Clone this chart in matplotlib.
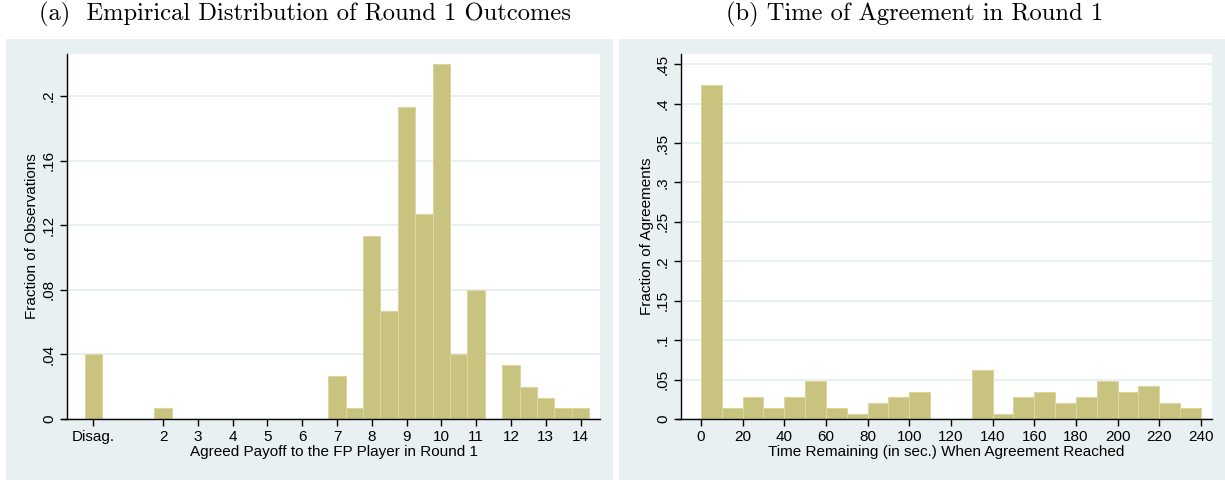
import numpy as np
import matplotlib
matplotlib.use("Agg")
import matplotlib.pyplot as plt
from matplotlib.patches import Rectangle

# Panel (a): agreed payoff to the FP player (0 = disagreement)
payoff_pos = [0, 2, 7, 7.5, 8, 8.5, 9, 9.5, 10, 10.5, 11, 12, 12.5, 13, 13.5, 14]
payoff_frac = [0.0400, 0.0067, 0.0267, 0.0067, 0.1133, 0.0667, 0.1933, 0.1267,
               0.2200, 0.0400, 0.0800, 0.0333, 0.0200, 0.0133, 0.0067, 0.0067]
payoff_ticks = [0, 2, 3, 4, 5, 6, 7, 8, 9, 10, 11, 12, 13, 14]
payoff_ticklabels = ["Disag.", "2", "3", "4", "5", "6", "7", "8", "9", "10",
                     "11", "12", "13", "14"]
frac_ticks_a = [0, 0.04, 0.08, 0.12, 0.16, 0.2]
frac_labels_a = ["0", ".04", ".08", ".12", ".16", ".2"]

# Panel (b): time remaining when agreement reached (10 sec bins)
time_bin_left = [0, 10, 20, 30, 40, 50, 60, 70, 80, 90, 100, 110, 120,
                 130, 140, 150, 160, 170, 180, 190, 200, 210, 220, 230]
time_frac = [0.4236, 0.0139, 0.0278, 0.0139, 0.0278, 0.0486, 0.0139, 0.0069,
             0.0208, 0.0278, 0.0347, 0.0, 0.0, 0.0625, 0.0069, 0.0278,
             0.0347, 0.0208, 0.0278, 0.0486, 0.0347, 0.0417, 0.0208, 0.0139]
time_ticks = list(range(0, 241, 20))
frac_ticks_b = [0, 0.05, 0.1, 0.15, 0.2, 0.25, 0.3, 0.35, 0.4, 0.45]
frac_labels_b = ["0", ".05", ".1", ".15", ".2", ".25", ".3", ".35", ".4", ".45"]

bar_color = "#c9c380"
edge_color = "#dbd5a0"
bg_color = "#e8f0f2"
grid_color = "#e4eef0"

W, H = 1225, 480
plt.rcParams["font.family"] = ["Liberation Sans", "DejaVu Sans"]
fig = plt.figure(figsize=(W / 100, H / 100), dpi=100)


def px_box(x0, y0, x1, y1):
    # pixel box (top-left origin) -> figure fraction [l, b, w, h]
    return [x0 / W, 1 - y1 / H, (x1 - x0) / W, (y1 - y0) / H]


# gray graph regions, behind the axes
for x0, x1 in [(6, 613), (619, 1225)]:
    l, b, w, h = px_box(x0, 39, x1, 480)
    fig.patches.append(Rectangle((l, b), w, h, transform=fig.transFigure,
                                 facecolor=bg_color, edgecolor="none", zorder=-5))


def style_axes(ax, xlo_ext):
    ax.set_facecolor("white")
    for s in ["top", "right"]:
        ax.spines[s].set_visible(False)
    ax.spines["left"].set_linewidth(1.0)
    ax.spines["bottom"].set_linewidth(1.0)
    ax.spines["bottom"].set_bounds(xlo_ext, ax.get_xlim()[1])
    ax.set_axisbelow(True)
    ax.yaxis.grid(True, color=grid_color, linewidth=1.2)
    ax.tick_params(axis="both", direction="out", length=5, width=1,
                   labelsize=11, pad=3)
    ax.tick_params(axis="y", labelrotation=90)
    for t in ax.get_yticklabels():
        t.set_va("center")


# ---- panel (a)
ax1 = fig.add_axes(px_box(67, 54, 600, 419))
ax1.bar(payoff_pos, payoff_frac, width=0.5, color=bar_color,
        edgecolor=edge_color, linewidth=0.8)
ax1.set_xlim(-0.76, 14.56)
ax1.set_ylim(0, 0.226)
ax1.set_xticks(payoff_ticks)
ax1.set_xticklabels(payoff_ticklabels)
ax1.set_yticks(frac_ticks_a)
ax1.set_yticklabels(frac_labels_a)
style_axes(ax1, -0.9)
ax1.set_xlabel("Agreed Payoff to the FP Player in Round 1", fontsize=11)
ax1.set_ylabel("Fraction of Observations", fontsize=11)
ax1.xaxis.set_label_coords(0.5, -0.09)
ax1.yaxis.set_label_coords(-0.066, 0.5)
ax1.xaxis.label.set_va("center")
ax1.yaxis.label.set_va("center")

# ---- panel (b)
ax2 = fig.add_axes(px_box(681, 54, 1212, 419))
ax2.bar(time_bin_left, time_frac, width=10, align="edge", color=bar_color,
        edgecolor=edge_color, linewidth=0.8)
ax2.set_xlim(-9.6, 245.3)
ax2.set_ylim(0, 0.463)
ax2.set_xticks(time_ticks)
ax2.set_yticks(frac_ticks_b)
ax2.set_yticklabels(frac_labels_b)
style_axes(ax2, -11.7)
ax2.set_xlabel("Time Remaining (in sec.) When Agreement Reached", fontsize=11)
ax2.set_ylabel("Fraction of Agreements", fontsize=11)
ax2.xaxis.set_label_coords(0.5, -0.09)
ax2.yaxis.set_label_coords(-0.064, 0.5)
ax2.xaxis.label.set_va("center")
ax2.yaxis.label.set_va("center")

# titles in a Computer Modern face
fig.text(305 / W, 1 - 14 / H, "(a)  Empirical Distribution of Round 1 Outcomes",
         family="cmr10", fontsize=17.7, ha="center", va="center")
fig.text(915 / W, 1 - 14 / H, "(b) Time of Agreement in Round 1",
         family="cmr10", fontsize=17.7, ha="center", va="center")

fig.savefig("out.png", dpi=100)
